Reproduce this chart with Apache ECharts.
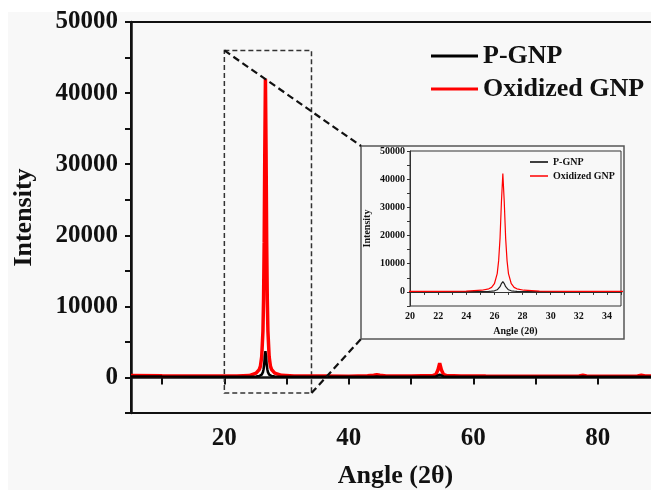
<!DOCTYPE html>
<html>
<head>
<meta charset="utf-8">
<script src="https://cdn.jsdelivr.net/npm/echarts@6/dist/echarts.min.js"></script>
<style>
  html, body { margin: 0; padding: 0; background: #fff; }
  #chart { width: 651px; height: 490px; }
</style>
</head>
<body>
<div id="chart"></div>
<script>
// XRD data
const angle = [5, 10, 15, 20, 22, 24, 25.1, 25.6, 25.8, 26.0, 26.2, 26.3, 26.4, 26.5, 26.6, 26.7, 26.8, 26.9, 27.0, 27.2, 27.4, 27.6, 28.1, 29.2, 31.2, 33.2, 36, 40, 43, 44, 44.5, 45, 46, 50, 53.5, 54.0, 54.3, 54.6, 54.9, 55.2, 55.7, 58, 62, 68, 74, 77, 77.6, 78.2, 82, 86.4, 87, 87.6, 90];
const pGnp = [150, 120, 100, 90, 95, 110, 150, 200, 260, 400, 750, 1150, 1850, 2950, 3700, 2950, 1850, 1150, 750, 400, 260, 200, 150, 110, 100, 95, 90, 85, 95, 110, 130, 110, 95, 90, 100, 150, 250, 400, 250, 150, 100, 90, 85, 85, 85, 95, 120, 95, 85, 90, 110, 90, 85];
const oxGnp = [280, 230, 200, 190, 200, 260, 600, 1100, 1600, 2900, 6500, 11000, 19000, 32000, 42000, 32000, 19000, 11000, 6500, 2900, 1600, 1100, 600, 300, 220, 200, 190, 180, 230, 300, 380, 300, 220, 200, 260, 450, 1000, 2000, 1000, 450, 260, 200, 190, 180, 180, 220, 320, 220, 180, 200, 300, 200, 180];

const seriesNames = ['P-GNP', 'Oxidized GNP'];
const mainXLabels = [20, 40, 60, 80];
const mainXTicks = [10, 20, 30, 40, 50, 60, 70, 80, 90];
const zoomBox = [[20, 46000], [34, -2200]];

const font = 'Liberation Serif, Times New Roman, serif';
const bg = '#f8f8f8';

const pGnpPairs = angle.map((a, i) => [a, pGnp[i]]);
const oxPairs = angle.map((a, i) => [a, oxGnp[i]]);

const tenK = v => (v % 10000 === 0 && v >= 0) ? String(v) : '';
const even = v => (v % 2 === 0) ? String(v) : '';

const myChart = echarts.init(document.getElementById('chart'));

let option = {
    backgroundColor: '#fff',
    animation: false,
    graphic: [
        { id: 'bg', type: 'rect', z: -10, silent: true, shape: { x: 8, y: 12, width: 660, height: 490 }, style: { fill: bg } },
        { id: 'frame', type: 'rect', z: -5, silent: true, shape: { x: 361, y: 146, width: 263, height: 193 }, style: { fill: bg, stroke: '#555', lineWidth: 1.5 } }
    ],
    legend: [
        {
            data: seriesNames,
            orient: 'vertical',
            left: 431, top: 43,
            padding: 0,
            icon: 'rect',
            itemWidth: 47, itemHeight: 3,
            itemGap: 7,
            textStyle: { fontFamily: font, fontWeight: 'bold', fontSize: 26, color: '#111' }
        },
        {
            data: seriesNames,
            orient: 'vertical',
            left: 530, top: 157,
            padding: 0,
            icon: 'rect',
            itemWidth: 18, itemHeight: 1.5,
            itemGap: 4,
            textStyle: { fontFamily: font, fontWeight: 'bold', fontSize: 10, color: '#111' }
        }
    ],
    grid: [
        { left: 131, top: 22, width: 529, height: 391, outerBoundsMode: 'none', containLabel: false, show: true, borderColor: '#111', borderWidth: 2 },
        { left: 410, top: 151, width: 211, height: 155, outerBoundsMode: 'none', containLabel: false, show: true, borderColor: '#333', borderWidth: 1 }
    ],
    xAxis: [
        {
            gridIndex: 0, type: 'value', min: 5, max: 90,
            name: 'Angle (2θ)', nameLocation: 'middle', nameGap: 50,
            nameTextStyle: { fontFamily: font, fontWeight: 'bold', fontSize: 26, color: '#111' },
            axisLine: { lineStyle: { color: '#111', width: 2.5 } },
            axisTick: { customValues: mainXTicks, length: 7, lineStyle: { color: '#111', width: 2 } },
            axisLabel: { customValues: mainXLabels, margin: 13, fontFamily: font, fontWeight: 'bold', fontSize: 25, color: '#111' },
            splitLine: { show: false }
        },
        {
            gridIndex: 1, type: 'value', min: 20, max: 35, interval: 1,
            name: 'Angle (2θ)', nameLocation: 'middle', nameGap: 20,
            nameTextStyle: { fontFamily: font, fontWeight: 'bold', fontSize: 10, color: '#111' },
            axisLine: { lineStyle: { color: '#333', width: 1 } },
            axisTick: { length: 3, lineStyle: { color: '#333' } },
            axisLabel: { formatter: even, margin: 5, fontFamily: font, fontWeight: 'bold', fontSize: 10, color: '#111' },
            splitLine: { show: false }
        }
    ],
    yAxis: [
        {
            gridIndex: 0, type: 'value', min: -5000, max: 50000, interval: 5000,
            name: 'Intensity', nameLocation: 'middle', nameGap: 94,
            nameTextStyle: { fontFamily: font, fontWeight: 'bold', fontSize: 26, color: '#111' },
            axisLine: { lineStyle: { color: '#111', width: 2.5 } },
            axisTick: { length: 6, lineStyle: { color: '#111', width: 2 } },
            axisLabel: { formatter: tenK, margin: 13, fontFamily: font, fontWeight: 'bold', fontSize: 25, color: '#111' },
            splitLine: { show: false }
        },
        {
            gridIndex: 1, type: 'value', min: -5000, max: 50000, interval: 5000,
            name: 'Intensity', nameLocation: 'middle', nameGap: 38,
            nameTextStyle: { fontFamily: font, fontWeight: 'bold', fontSize: 10, color: '#111' },
            axisLine: { lineStyle: { color: '#333', width: 1 } },
            axisTick: { length: 3, lineStyle: { color: '#333' } },
            axisLabel: { formatter: tenK, margin: 5, fontFamily: font, fontWeight: 'bold', fontSize: 10, color: '#111' },
            splitLine: { show: false }
        }
    ],
    series: [
        {
            name: 'Oxidized GNP', type: 'line', xAxisIndex: 0, yAxisIndex: 0,
            data: oxPairs, showSymbol: false, z: 3,
            itemStyle: { color: '#ff0000' },
            lineStyle: { color: '#ff0000', width: 3.5 }
        },
        {
            name: 'P-GNP', type: 'line', xAxisIndex: 0, yAxisIndex: 0,
            data: pGnpPairs, showSymbol: false, z: 4,
            itemStyle: { color: '#000' },
            lineStyle: { color: '#000', width: 2.5 },
            markArea: {
                silent: true,
                itemStyle: { color: 'rgba(0,0,0,0)', borderColor: '#333', borderWidth: 1.5, borderType: [5, 3] },
                data: [[{ coord: zoomBox[0] }, { coord: zoomBox[1] }]]
            }
        },
        {
            name: 'P-GNP', type: 'line', xAxisIndex: 1, yAxisIndex: 1,
            data: pGnpPairs, showSymbol: false, z: 3,
            itemStyle: { color: '#000' },
            lineStyle: { color: '#222', width: 1.2 }
        },
        {
            name: 'Oxidized GNP', type: 'line', xAxisIndex: 1, yAxisIndex: 1,
            data: oxPairs, showSymbol: false, z: 4,
            itemStyle: { color: '#ff0000' },
            lineStyle: { color: '#ff0000', width: 1.2 }
        }
    ]
};

myChart.setOption(option);

// dashed connectors from the zoom box to the inset frame
const topCorner = myChart.convertToPixel({ xAxisIndex: 0, yAxisIndex: 0 }, zoomBox[0]);
const botCorner = myChart.convertToPixel({ xAxisIndex: 0, yAxisIndex: 0 }, zoomBox[1]);
const dash = { stroke: '#111', lineWidth: 2.2, lineDash: [7, 4] };
myChart.setOption({
    graphic: [
        { id: 'c1', type: 'line', z: 10, silent: true, shape: { x1: topCorner[0], y1: topCorner[1], x2: 361, y2: 146 }, style: dash },
        { id: 'c2', type: 'line', z: 10, silent: true, shape: { x1: botCorner[0], y1: botCorner[1], x2: 361, y2: 339 }, style: dash }
    ]
});
</script>
</body>
</html>
